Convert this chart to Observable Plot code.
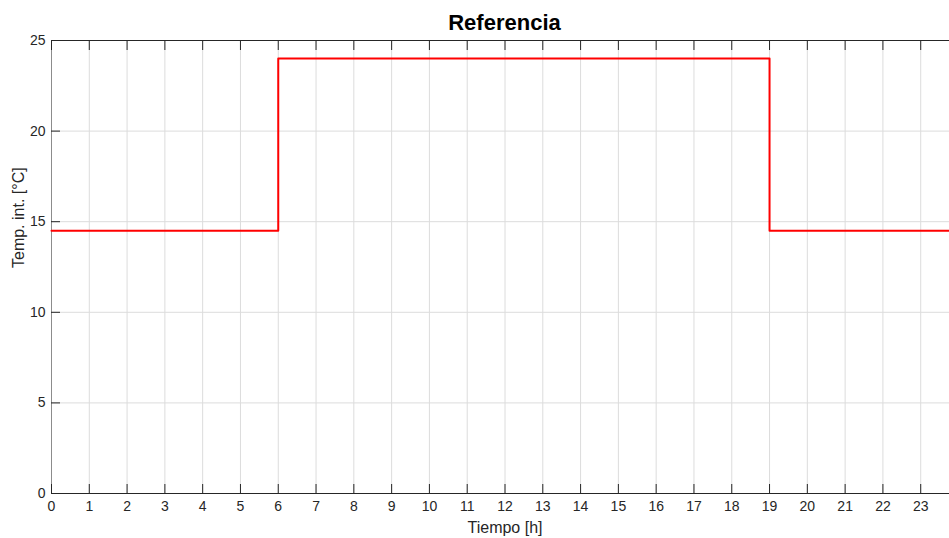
<!DOCTYPE html>
<html>
<head>
<meta charset="utf-8">
<script src="https://cdn.jsdelivr.net/npm/d3@7"></script>
<script src="https://cdn.jsdelivr.net/npm/@observablehq/plot@0.6"></script>
<style>
  html, body { margin: 0; padding: 0; background: #fff; overflow: hidden; }
  #title { width: 907px; padding-left: 51px; box-sizing: content-box;
           text-align: center; font: bold 22px "Liberation Sans", Arial, sans-serif;
           color: #000; line-height: 26px; padding-top: 10px; height: 30px; }
  #chart { width: 958px; }
</style>
</head>
<body>
<div id="title"></div>
<div id="chart"></div>
<script>
// Step breakpoints (hour at which each level starts) and temperatures
const hours = [0, 6, 19, 24];
const temps = [14.5, 24, 14.5, 14.5];
const xTicks = [0,1,2,3,4,5,6,7,8,9,10,11,12,13,14,15,16,17,18,19,20,21,22,23];
const yTicks = [0, 5, 10, 15, 20, 25];
const xDomain = [0, 24];
const yDomain = [0, 25];
const titleText = "Referencia";
const xLabel = "Tiempo [h]";
const yLabel = "Temp. int. [°C]";

document.getElementById("title").textContent = titleText;
const data = hours.map((h, i) => ({h, t: temps[i]}));
const font = "Liberation Sans, Arial, sans-serif";
const textColor = "#262626";

const chart = Plot.plot({
  width: 958,
  height: 498,
  marginTop: 0,
  marginBottom: 45,
  marginLeft: 51,
  marginRight: 0,
  style: {fontFamily: font, fontSize: "14px", color: textColor, background: "#fff", overflow: "visible"},
  x: {domain: xDomain, ticks: xTicks, label: null},
  y: {domain: yDomain, ticks: yTicks, label: null},
  marks: [
    Plot.gridX(xTicks, {stroke: "#dcdcdc", strokeOpacity: 1}),
    Plot.gridY(yTicks, {stroke: "#dcdcdc", strokeOpacity: 1}),
    Plot.ruleY([yDomain[1]], {stroke: "#262626", strokeWidth: 1}),
    Plot.ruleY([yDomain[0]], {stroke: "#262626", strokeWidth: 1}),
    Plot.ruleX([xDomain[0]], {stroke: "#8c8c8c", strokeWidth: 1}),
    Plot.axisX(xTicks, {anchor: "bottom", tickSize: -9, tickPadding: 17, stroke: "#262626", fill: textColor, label: null, fontSize: 14}),
    Plot.axisX(xTicks, {anchor: "top", tickSize: -9, tickFormat: () => "", stroke: "#262626", label: null}),
    Plot.axisY(yTicks, {anchor: "left", tickSize: -9, tickPadding: 15, stroke: "#262626", fill: textColor, label: null, fontSize: 14}),
    Plot.line(data, {x: "h", y: "t", curve: "step-after", stroke: "#ff0000", strokeWidth: 2}),
    Plot.text([xLabel], {frameAnchor: "bottom", dy: 39, fontSize: 16, fill: textColor}),
    Plot.text([yLabel], {frameAnchor: "left", dx: -33, dy: 1, rotate: -90, fontSize: 16, fill: textColor})
  ]
});
document.getElementById("chart").appendChild(chart);
</script>
</body>
</html>
